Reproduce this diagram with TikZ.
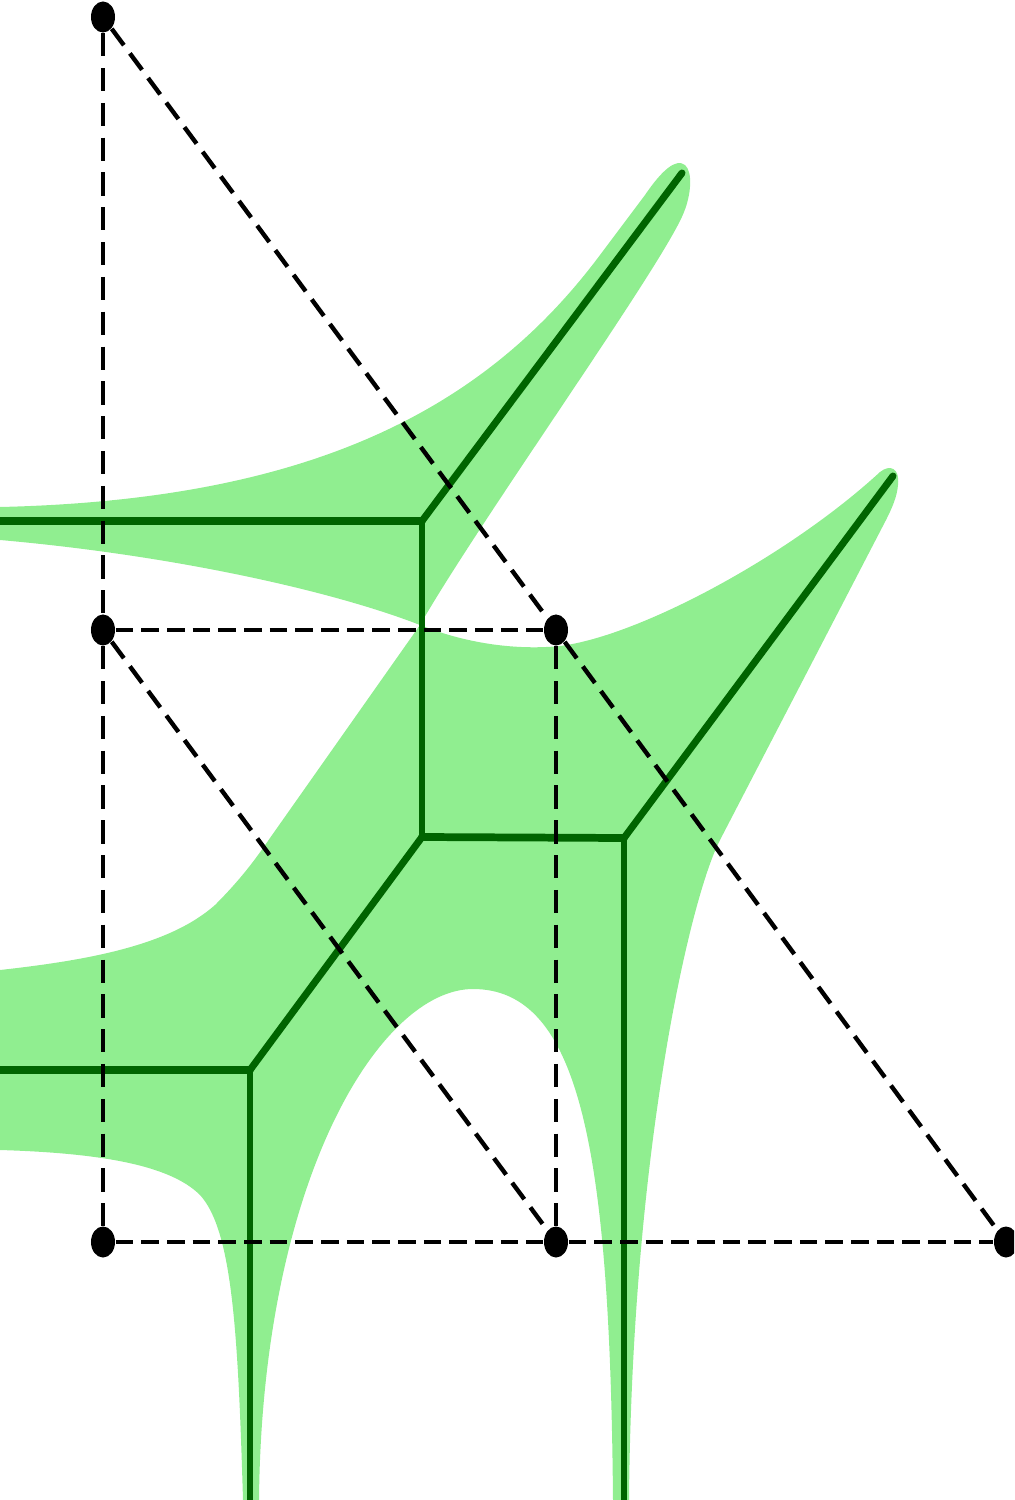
\documentclass[tikz,border=0pt]{standalone}
\usetikzlibrary{shapes.geometric}
\definecolor{amoeba}{RGB}{144,238,144}
\definecolor{trop}{RGB}{0,100,0}
\tikzset{
  dotnode/.style={ellipse, fill=black, inner sep=0pt, minimum width=0.24cm, minimum height=0.31cm},
  dashV/.style={draw=black, line width=1.1pt, dash pattern=on 6.6pt off 3.3pt},
  dashH/.style={draw=black, line width=1.4pt, dash pattern=on 5pt off 2.3pt},
  dashD/.style={draw=black, line width=1.25pt, dash pattern=on 5.8pt off 2.9pt},
  tropH/.style={draw=trop, line width=2.2pt, line cap=round},
  tropV/.style={draw=trop, line width=1.7pt, line cap=round},
  tropD/.style={draw=trop, line width=2pt, line cap=round}
}
\begin{document}
\begin{tikzpicture}[x=0.01cm,y=-0.01cm]
\useasboundingbox (0,0) rectangle (1014,1500);
\clip (0,0) rectangle (1014,1500);
% amoeba
\fill[amoeba] (0,507)
 .. controls (300,500) and (480,416) .. (600,255)
 -- (645,195)
 .. controls (662,170) and (676,158) .. (685,165)
 .. controls (693,172) and (691,195) .. (684,212)
 .. controls (665,262) and (480,520) .. (420,625)
 .. controls (470,645) and (520,650) .. (560,646)
 .. controls (640,636) and (790,555) .. (880,472)
 .. controls (890,464) and (900,468) .. (898,485)
 .. controls (897,497) and (892,508) .. (886,520)
 -- (720,840)
 .. controls (690,898) and (632,1150) .. (629,1500)
 -- (613,1500)
 .. controls (610,1150) and (580,989) .. (473,989)
 .. controls (380,989) and (262,1180) .. (259,1500)
 -- (243,1500)
 .. controls (238,1330) and (232,1230) .. (200,1195)
 .. controls (170,1165) and (100,1153) .. (0,1150)
 -- (0,970)
 .. controls (90,960) and (170,945) .. (215,905)
 .. controls (240,880) and (255,860) .. (270,838)
 -- (420,625)
 .. controls (330,590) and (170,555) .. (0,540)
 -- cycle;
% tropical curve
\coordinate (v1) at (422,521);
\coordinate (v2) at (422,837);
\coordinate (v3) at (624,838);
\coordinate (v4) at (250,1070);
\coordinate (e1) at (0,521);
\coordinate (e2) at (682,173);
\coordinate (e3) at (893,476);
\coordinate (e4) at (624,1500);
\coordinate (e5) at (0,1070);
\coordinate (e6) at (250,1500);
\draw[tropH] (e1) -- (v1);
\draw[tropD] (v1) -- (e2);
\draw[tropV] (v1) -- (v2);
\draw[tropH] (v2) -- (v3);
\draw[tropD] (v3) -- (e3);
\draw[tropV] (v3) -- (e4);
\draw[tropD] (v2) -- (v4);
\draw[tropH] (v4) -- (e5);
\draw[tropV] (v4) -- (e6);
% Newton subdivision
\node[dotnode] (a) at (103,17) {};
\node[dotnode] (b) at (103,630) {};
\node[dotnode] (c) at (556,630) {};
\node[dotnode] (d) at (103,1242) {};
\node[dotnode] (e) at (556,1242) {};
\node[dotnode] (f) at (1006,1242) {};
\draw[dashV] (a) -- (b);
\draw[dashV] (b) -- (d);
\draw[dashV] (c) -- (e);
\draw[dashD] (a) -- (c);
\draw[dashD] (c) -- (f);
\draw[dashD] (b) -- (e);
\draw[dashH] (b) -- (c);
\draw[dashH] (d) -- (e);
\draw[dashH] (e) -- (f);
\end{tikzpicture}
\end{document}
